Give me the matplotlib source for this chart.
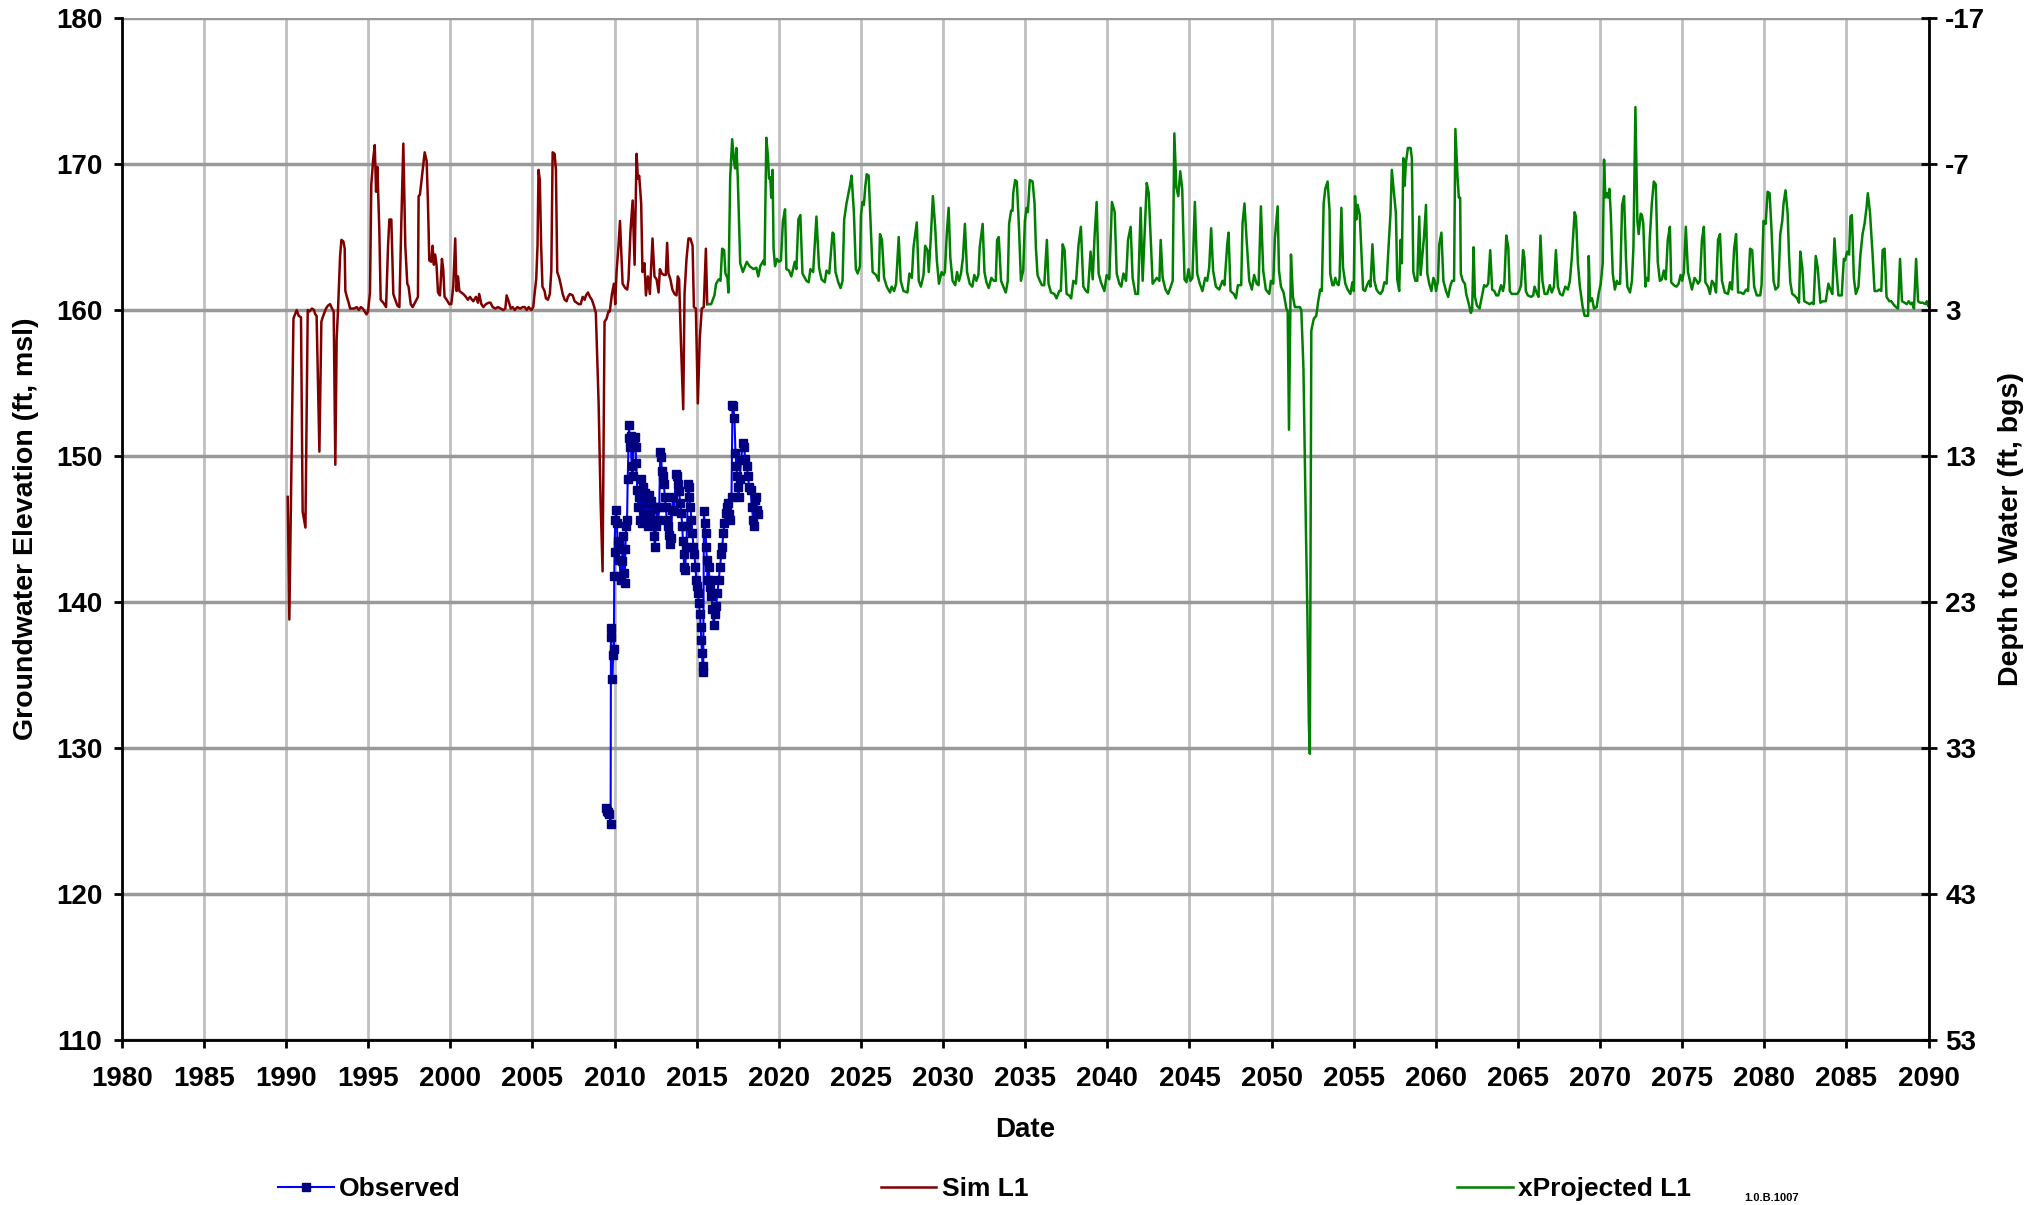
import matplotlib
matplotlib.use("Agg")
import matplotlib.pyplot as plt

# Observed groundwater elevation (ft, msl)
obs_year = [
    2009.45, 2009.52, 2009.60, 2009.68, 2009.76, 2009.78, 2009.80, 2009.86, 2009.92, 2009.96,
    2009.98, 2010.00, 2010.04, 2010.10, 2010.14, 2010.18, 2010.24, 2010.30, 2010.36, 2010.42,
    2010.46, 2010.52, 2010.58, 2010.62, 2010.66, 2010.70, 2010.76, 2010.80, 2010.86, 2010.88,
    2010.94, 2010.98, 2011.04, 2011.10, 2011.16, 2011.22, 2011.28, 2011.32, 2011.38, 2011.44,
    2011.50, 2011.56, 2011.62, 2011.68, 2011.74, 2011.80, 2011.86, 2011.92, 2011.98, 2012.04,
    2012.10, 2012.16, 2012.22, 2012.28, 2012.34, 2012.40, 2012.46, 2012.52, 2012.58, 2012.66,
    2012.72, 2012.78, 2012.84, 2012.88, 2012.92, 2013.00, 2013.06, 2013.12, 2013.18, 2013.26,
    2013.32, 2013.38, 2013.44, 2013.50, 2013.56, 2013.64, 2013.72, 2013.78, 2013.86, 2013.92,
    2014.00, 2014.06, 2014.12, 2014.16, 2014.20, 2014.24, 2014.30, 2014.36, 2014.42, 2014.46,
    2014.52, 2014.56, 2014.62, 2014.68, 2014.74, 2014.80, 2014.86, 2014.92, 2014.98, 2015.04,
    2015.08, 2015.14, 2015.20, 2015.24, 2015.28, 2015.32, 2015.36, 2015.40, 2015.44, 2015.48,
    2015.54, 2015.58, 2015.62, 2015.66, 2015.72, 2015.78, 2015.84, 2015.90, 2015.96, 2016.04,
    2016.10, 2016.18, 2016.26, 2016.34, 2016.42, 2016.50, 2016.56, 2016.62, 2016.68, 2016.76,
    2016.84, 2016.90, 2016.98, 2017.04, 2017.12, 2017.18, 2017.22, 2017.30, 2017.36, 2017.42,
    2017.46, 2017.50, 2017.56, 2017.62, 2017.70, 2017.80, 2017.88, 2017.96, 2018.06, 2018.12,
    2018.20, 2018.28, 2018.36, 2018.44, 2018.50, 2018.56, 2018.62, 2018.68, 2018.72,
]
obs_elev = [
    125.9, 125.7, 125.6, 125.5, 124.8, 138.2, 137.6, 134.7, 136.4, 136.8,
    141.8, 143.4, 145.6, 146.3, 145.4, 144.2, 143.6, 142.9, 141.8, 141.5,
    142.8, 144.5, 142.0, 141.3, 143.6, 145.2, 145.6, 148.4, 151.2, 152.1,
    150.6, 151.4, 149.3, 148.6, 151.1, 151.3, 150.6, 149.5, 147.7, 146.5,
    147.2, 145.6, 148.4, 145.4, 147.9, 146.1, 147.5, 145.6, 146.8, 145.2,
    147.3, 145.8, 146.9, 145.6, 146.4, 144.5, 143.8, 145.2, 146.5, 145.6,
    146.5, 150.3, 149.9, 149.0, 148.6, 148.1, 147.2, 146.5, 145.6, 145.2,
    144.6, 144.0, 144.4, 146.3, 147.2, 146.2, 148.8, 148.6, 148.1, 147.6,
    146.8, 146.1, 145.2, 144.2, 143.3, 142.4, 142.2, 143.8, 145.2, 148.1,
    147.9, 147.2, 146.5, 145.6, 144.7, 143.8, 143.3, 142.4, 141.5, 141.1,
    140.6, 139.9, 139.2, 138.3, 137.4, 136.5, 135.6, 135.2, 146.2, 145.4,
    144.7, 143.8, 142.9, 141.5, 142.4, 141.5, 141.0, 140.4, 139.5, 138.4,
    139.2, 139.7, 140.6, 141.5, 142.4, 143.3, 143.8, 144.7, 145.4, 146.1,
    146.5, 146.8, 146.0, 145.6, 147.2, 153.5, 153.4, 152.6, 150.2, 149.3,
    148.6, 147.9, 147.2, 148.4, 149.7, 150.9, 150.6, 149.8, 149.3, 148.6,
    147.9, 147.7, 146.5, 145.6, 145.2, 147.0, 147.2, 146.3, 146.0,
]

# Simulated layer 1 (1990-2015)
sim_year = [
    1990.10, 1990.20, 1990.45, 1990.51, 1990.65, 1990.77, 1990.91, 1991.01, 1991.18, 1991.32,
    1991.42, 1991.58, 1991.70, 1991.78, 1991.86, 1992.03, 1992.15, 1992.23, 1992.33, 1992.43,
    1992.55, 1992.68, 1992.80, 1992.90, 1993.00, 1993.08, 1993.16, 1993.29, 1993.37, 1993.49,
    1993.57, 1993.61, 1993.73, 1993.81, 1993.90, 1994.02, 1994.14, 1994.30, 1994.43, 1994.55,
    1994.67, 1994.90, 1994.99, 1995.11, 1995.19, 1995.31, 1995.40, 1995.48, 1995.56, 1995.68,
    1995.76, 1995.92, 1996.09, 1996.21, 1996.29, 1996.41, 1996.53, 1996.65, 1996.78, 1996.90,
    1997.02, 1997.14, 1997.26, 1997.38, 1997.46, 1997.59, 1997.71, 1998.03, 1998.07, 1998.15,
    1998.32, 1998.44, 1998.56, 1998.64, 1998.72, 1998.84, 1998.92, 1999.00, 1999.08, 1999.16,
    1999.25, 1999.37, 1999.49, 1999.57, 1999.65, 1999.78, 1999.94, 2000.06, 2000.18, 2000.30,
    2000.38, 2000.47, 2000.55, 2000.67, 2000.79, 2000.95, 2001.07, 2001.20, 2001.32, 2001.40,
    2001.56, 2001.68, 2001.76, 2001.89, 2002.01, 2002.17, 2002.33, 2002.45, 2002.58, 2002.74,
    2002.90, 2003.07, 2003.23, 2003.35, 2003.43, 2003.55, 2003.68, 2003.80, 2003.92, 2004.08,
    2004.25, 2004.41, 2004.53, 2004.65, 2004.77, 2004.93, 2005.05, 2005.13, 2005.23, 2005.31,
    2005.37, 2005.45, 2005.53, 2005.61, 2005.74, 2005.82, 2005.94, 2006.06, 2006.15, 2006.23,
    2006.35, 2006.43, 2006.51, 2006.63, 2006.75, 2006.84, 2006.96, 2007.08, 2007.16, 2007.28,
    2007.45, 2007.57, 2007.69, 2007.82, 2007.94, 2008.06, 2008.18, 2008.26, 2008.38, 2008.50,
    2008.62, 2008.74, 2008.86, 2009.03, 2009.15, 2009.27, 2009.39, 2009.51, 2009.63, 2009.71,
    2009.84, 2009.96, 2010.04, 2010.12, 2010.24, 2010.33, 2010.49, 2010.65, 2010.77, 2010.85,
    2010.97, 2011.10, 2011.22, 2011.34, 2011.42, 2011.50, 2011.62, 2011.70, 2011.82, 2011.91,
    2012.03, 2012.15, 2012.31, 2012.43, 2012.56, 2012.68, 2012.76, 2012.88, 2013.00, 2013.12,
    2013.20, 2013.28, 2013.40, 2013.52, 2013.65, 2013.77, 2013.85, 2013.93, 2014.04, 2014.18,
    2014.26, 2014.38, 2014.50, 2014.62, 2014.75, 2014.83, 2014.95, 2015.07, 2015.19, 2015.31,
    2015.43, 2015.56, 2015.64,
]
sim_elev = [
    147.2, 138.8, 159.4, 159.6, 160.0, 159.6, 159.5, 146.2, 145.1, 160.0,
    159.9, 160.1, 160.0, 159.7, 159.6, 150.3, 159.2, 159.5, 159.8, 160.1,
    160.3, 160.4, 160.1, 159.9, 149.4, 158.0, 159.9, 163.7, 164.8, 164.7,
    164.2, 161.3, 160.8, 160.5, 160.1, 160.1, 160.1, 160.2, 160.0, 160.2,
    160.1, 159.7, 159.9, 161.2, 168.6, 170.4, 171.3, 168.1, 169.8, 165.4,
    160.7, 160.5, 160.2, 164.4, 166.2, 166.2, 161.1, 160.7, 160.3, 160.2,
    166.1, 171.4, 164.4, 161.8, 161.6, 160.4, 160.2, 160.9, 167.8, 167.9,
    169.6, 170.8, 170.2, 167.3, 163.4, 163.3, 164.4, 163.1, 163.8, 163.1,
    161.2, 161.0, 163.5, 162.8, 160.9, 160.7, 160.4, 160.4, 161.6, 164.9,
    161.3, 162.3, 161.3, 161.2, 161.1, 160.9, 160.7, 160.9, 160.7, 160.6,
    160.9, 160.5, 161.1, 160.4, 160.2, 160.4, 160.5, 160.5, 160.2, 160.1,
    160.2, 160.1, 160.0, 160.1, 161.0, 160.6, 160.1, 160.2, 160.0, 160.2,
    160.1, 160.2, 160.2, 160.0, 160.2, 160.0, 160.2, 161.1, 162.1, 164.4,
    169.6, 168.9, 164.4, 161.6, 161.3, 160.8, 160.7, 161.1, 162.7, 170.8,
    170.7, 169.6, 162.6, 162.2, 161.6, 161.1, 160.7, 160.6, 160.9, 161.1,
    161.0, 160.6, 160.5, 160.4, 160.4, 160.9, 160.7, 161.0, 161.2, 160.9,
    160.7, 160.3, 159.8, 153.6, 146.9, 142.1, 159.2, 159.4, 159.9, 159.9,
    161.1, 161.8, 160.4, 162.6, 164.4, 166.1, 161.8, 161.5, 161.4, 162.1,
    165.4, 167.5, 163.1, 170.7, 169.0, 169.2, 167.3, 162.6, 163.2, 161.0,
    162.3, 161.1, 164.9, 162.3, 162.1, 161.2, 162.8, 162.5, 162.4, 162.4,
    164.6, 162.5, 162.1, 161.4, 161.1, 161.0, 162.3, 162.1, 157.8, 153.2,
    161.1, 163.5, 164.9, 164.9, 164.4, 160.2, 160.1, 153.6, 158.1, 160.1,
    160.2, 164.2, 160.4,
]

# Projected layer 1 (2015-2090)
proj_year = [
    2015.67, 2015.88, 2016.08, 2016.18, 2016.34, 2016.45, 2016.55, 2016.67, 2016.75, 2016.87,
    2016.93, 2017.04, 2017.16, 2017.26, 2017.34, 2017.42, 2017.50, 2017.65, 2017.81, 2018.05,
    2018.22, 2018.46, 2018.63, 2018.75, 2018.87, 2019.07, 2019.13, 2019.24, 2019.34, 2019.40,
    2019.48, 2019.54, 2019.62, 2019.68, 2019.77, 2019.89, 2020.01, 2020.13, 2020.25, 2020.38,
    2020.46, 2020.62, 2020.76, 2020.87, 2020.97, 2021.07, 2021.19, 2021.31, 2021.44, 2021.68,
    2021.82, 2021.92, 2022.09, 2022.29, 2022.45, 2022.60, 2022.80, 2022.90, 2023.07, 2023.27,
    2023.35, 2023.45, 2023.62, 2023.76, 2023.88, 2023.98, 2024.12, 2024.33, 2024.43, 2024.57,
    2024.69, 2024.80, 2024.94, 2025.00, 2025.10, 2025.18, 2025.26, 2025.35, 2025.47, 2025.71,
    2025.92, 2026.08, 2026.16, 2026.28, 2026.41, 2026.57, 2026.77, 2026.87, 2027.02, 2027.14,
    2027.30, 2027.42, 2027.59, 2027.83, 2027.95, 2028.10, 2028.20, 2028.32, 2028.40, 2028.52,
    2028.65, 2028.81, 2028.91, 2029.05, 2029.13, 2029.26, 2029.38, 2029.52, 2029.62, 2029.75,
    2029.91, 2030.03, 2030.11, 2030.23, 2030.34, 2030.44, 2030.58, 2030.74, 2030.85, 2030.97,
    2031.09, 2031.21, 2031.33, 2031.46, 2031.62, 2031.78, 2031.90, 2032.03, 2032.15, 2032.23,
    2032.41, 2032.52, 2032.64, 2032.78, 2032.94, 2033.09, 2033.21, 2033.29, 2033.39, 2033.53,
    2033.74, 2033.82, 2033.94, 2034.02, 2034.14, 2034.23, 2034.27, 2034.39, 2034.49, 2034.63,
    2034.74, 2034.88, 2034.98, 2035.08, 2035.16, 2035.28, 2035.45, 2035.57, 2035.65, 2035.75,
    2035.89, 2036.02, 2036.16, 2036.32, 2036.42, 2036.57, 2036.77, 2036.91, 2037.07, 2037.17,
    2037.28, 2037.40, 2037.52, 2037.68, 2037.80, 2037.93, 2038.09, 2038.25, 2038.39, 2038.54,
    2038.70, 2038.82, 2038.98, 2039.11, 2039.23, 2039.35, 2039.47, 2039.61, 2039.82, 2039.96,
    2040.12, 2040.28, 2040.45, 2040.57, 2040.73, 2040.85, 2040.98, 2041.14, 2041.26, 2041.42,
    2041.54, 2041.71, 2041.87, 2042.03, 2042.15, 2042.28, 2042.40, 2042.52, 2042.60, 2042.76,
    2042.89, 2043.01, 2043.17, 2043.25, 2043.37, 2043.54, 2043.70, 2043.86, 2043.98, 2044.08,
    2044.20, 2044.32, 2044.44, 2044.56, 2044.70, 2044.82, 2044.94, 2045.06, 2045.18, 2045.33,
    2045.47, 2045.63, 2045.79, 2045.96, 2046.08, 2046.20, 2046.32, 2046.44, 2046.61, 2046.81,
    2047.01, 2047.13, 2047.30, 2047.38, 2047.50, 2047.70, 2047.83, 2047.95, 2048.15, 2048.23,
    2048.35, 2048.48, 2048.64, 2048.80, 2048.94, 2049.09, 2049.21, 2049.35, 2049.49, 2049.65,
    2049.86, 2049.96, 2050.10, 2050.20, 2050.37, 2050.45, 2050.57, 2050.73, 2050.90, 2050.98,
    2051.06, 2051.18, 2051.30, 2051.42, 2051.72, 2051.81, 2051.94, 2052.09, 2052.18, 2052.27,
    2052.33, 2052.42, 2052.57, 2052.72, 2052.84, 2052.96, 2053.06, 2053.17, 2053.27, 2053.41,
    2053.53, 2053.57, 2053.70, 2053.78, 2053.88, 2053.98, 2054.08, 2054.14, 2054.25, 2054.35,
    2054.49, 2054.63, 2054.80, 2054.92, 2055.00, 2055.08, 2055.16, 2055.24, 2055.37, 2055.45,
    2055.57, 2055.69, 2055.81, 2055.94, 2056.02, 2056.14, 2056.26, 2056.39, 2056.51, 2056.63,
    2056.75, 2056.87, 2057.00, 2057.12, 2057.24, 2057.32, 2057.45, 2057.57, 2057.65, 2057.77,
    2057.85, 2057.93, 2058.02, 2058.10, 2058.18, 2058.30, 2058.46, 2058.54, 2058.63, 2058.75,
    2058.87, 2058.99, 2059.07, 2059.15, 2059.28, 2059.40, 2059.48, 2059.60, 2059.73, 2059.85,
    2059.93, 2060.01, 2060.13, 2060.21, 2060.34, 2060.46, 2060.62, 2060.75, 2060.87, 2060.99,
    2061.11, 2061.19, 2061.32, 2061.40, 2061.48, 2061.52, 2061.64, 2061.77, 2061.85, 2062.01,
    2062.13, 2062.21, 2062.30, 2062.38, 2062.50, 2062.66, 2062.82, 2062.94, 2063.07, 2063.19,
    2063.31, 2063.43, 2063.56, 2063.68, 2063.80, 2063.97, 2064.09, 2064.17, 2064.29, 2064.41,
    2064.50, 2064.62, 2064.78, 2064.95, 2065.07, 2065.19, 2065.31, 2065.39, 2065.48, 2065.60,
    2065.80, 2065.93, 2066.01, 2066.13, 2066.25, 2066.37, 2066.49, 2066.62, 2066.78, 2066.94,
    2067.06, 2067.19, 2067.31, 2067.43, 2067.56, 2067.72, 2067.88, 2068.04, 2068.16, 2068.28,
    2068.45, 2068.53, 2068.65, 2068.77, 2068.94, 2069.06, 2069.27, 2069.31, 2069.39, 2069.51,
    2069.63, 2069.79, 2069.91, 2070.04, 2070.16, 2070.24, 2070.32, 2070.40, 2070.49, 2070.57,
    2070.65, 2070.77, 2070.90, 2071.02, 2071.10, 2071.22, 2071.34, 2071.46, 2071.58, 2071.66,
    2071.82, 2071.94, 2072.03, 2072.15, 2072.27, 2072.35, 2072.47, 2072.55, 2072.63, 2072.76,
    2072.82, 2072.94, 2073.02, 2073.15, 2073.27, 2073.39, 2073.51, 2073.64, 2073.76, 2073.88,
    2074.00, 2074.12, 2074.25, 2074.33, 2074.49, 2074.65, 2074.78, 2074.90, 2075.00, 2075.10,
    2075.22, 2075.35, 2075.47, 2075.59, 2075.75, 2075.88, 2075.96, 2076.08, 2076.20, 2076.32,
    2076.41, 2076.57, 2076.69, 2076.81, 2076.93, 2077.06, 2077.18, 2077.30, 2077.42, 2077.59,
    2077.79, 2077.91, 2078.03, 2078.16, 2078.28, 2078.40, 2078.56, 2078.73, 2078.89, 2079.01,
    2079.13, 2079.26, 2079.38, 2079.54, 2079.75, 2079.83, 2079.95, 2080.08, 2080.20, 2080.32,
    2080.44, 2080.56, 2080.68, 2080.85, 2080.97, 2081.09, 2081.17, 2081.29, 2081.42, 2081.50,
    2081.58, 2081.70, 2081.82, 2081.99, 2082.11, 2082.19, 2082.31, 2082.43, 2082.60, 2082.76,
    2082.88, 2083.00, 2083.13, 2083.25, 2083.41, 2083.57, 2083.74, 2083.90, 2084.02, 2084.14,
    2084.27, 2084.39, 2084.51, 2084.71, 2084.84, 2084.92, 2085.04, 2085.16, 2085.24, 2085.33,
    2085.45, 2085.57, 2085.73, 2085.85, 2085.98, 2086.10, 2086.22, 2086.30, 2086.43, 2086.59,
    2086.71, 2086.87, 2087.00, 2087.12, 2087.20, 2087.32, 2087.44, 2087.61, 2087.73, 2087.85,
    2088.01, 2088.14, 2088.26, 2088.38, 2088.54, 2088.67, 2088.79, 2088.91, 2088.99, 2089.11,
    2089.24, 2089.36, 2089.48, 2089.64, 2089.81, 2089.89, 2089.97,
]
proj_elev = [
    160.4, 160.4, 161.0, 161.8, 162.1, 162.0, 164.2, 164.1, 162.5, 162.2,
    161.2, 169.1, 171.7, 170.3, 169.7, 171.1, 169.1, 163.2, 162.6, 163.3,
    163.0, 162.8, 162.9, 162.3, 163.0, 163.4, 163.1, 171.8, 170.5, 169.0,
    169.1, 167.7, 169.6, 164.2, 163.0, 163.5, 163.3, 163.4, 166.1, 166.9,
    162.8, 162.7, 162.3, 162.8, 163.3, 162.8, 166.2, 166.5, 162.5, 162.0,
    161.9, 162.8, 162.6, 166.4, 162.9, 162.1, 161.9, 162.7, 162.5, 165.3,
    165.2, 162.6, 161.9, 161.5, 162.0, 166.2, 167.3, 168.5, 169.2, 166.7,
    162.8, 162.5, 163.0, 166.5, 167.4, 167.2, 168.4, 169.3, 169.2, 162.6,
    162.4, 162.0, 165.2, 164.8, 162.2, 161.6, 161.2, 161.6, 161.3, 161.8,
    165.0, 162.0, 161.3, 161.2, 162.5, 162.2, 164.3, 165.3, 166.0, 162.0,
    161.6, 162.4, 164.4, 164.1, 162.6, 165.1, 167.8, 165.7, 163.4, 161.8,
    162.6, 162.4, 162.6, 165.3, 167.0, 163.6, 162.0, 161.7, 162.6, 162.0,
    162.5, 163.6, 165.9, 162.6, 161.8, 161.6, 162.4, 162.0, 162.4, 164.3,
    165.9, 162.6, 161.9, 161.5, 162.2, 162.0, 162.0, 164.8, 165.0, 162.0,
    161.4, 161.2, 162.0, 165.9, 166.8, 166.8, 168.0, 168.9, 168.8, 165.4,
    162.0, 162.7, 166.1, 167.0, 166.7, 168.9, 168.8, 167.3, 164.3, 162.4,
    162.0, 161.7, 161.7, 164.8, 161.8, 161.2, 161.1, 160.8, 161.3, 161.3,
    164.5, 164.1, 161.1, 161.0, 160.8, 162.0, 161.8, 164.5, 165.7, 161.6,
    161.3, 161.2, 164.0, 162.1, 165.2, 167.4, 162.5, 161.9, 161.3, 162.4,
    162.1, 167.4, 166.7, 162.5, 161.8, 161.6, 162.5, 162.0, 164.8, 165.7,
    162.2, 161.1, 161.1, 167.0, 162.0, 165.4, 168.7, 168.0, 165.9, 161.8,
    162.0, 162.2, 162.0, 164.8, 162.2, 161.4, 161.1, 161.6, 162.0, 172.1,
    168.4, 167.8, 169.5, 168.3, 162.1, 161.9, 162.8, 162.0, 162.2, 167.4,
    162.5, 161.8, 161.3, 162.2, 162.0, 162.9, 165.6, 162.7, 161.6, 161.4,
    162.0, 161.7, 164.5, 165.3, 161.3, 161.1, 160.8, 161.7, 161.7, 165.9,
    167.3, 164.8, 162.0, 161.4, 162.4, 161.8, 161.7, 167.1, 162.7, 161.4,
    161.1, 162.0, 161.8, 164.9, 167.1, 162.7, 161.6, 161.2, 160.1, 159.9,
    151.8, 163.8, 160.9, 160.2, 160.2, 160.0, 156.0, 145.0, 139.2, 131.6,
    129.6, 158.6, 159.4, 159.6, 160.6, 161.4, 161.3, 167.3, 168.3, 168.8,
    166.8, 162.5, 161.7, 161.7, 162.2, 161.8, 161.7, 162.2, 167.0, 162.9,
    161.8, 161.4, 161.1, 161.9, 161.3, 167.8, 166.2, 167.2, 166.5, 164.5,
    161.4, 161.3, 161.7, 162.0, 161.6, 164.5, 162.0, 161.4, 161.2, 161.1,
    161.3, 161.9, 161.8, 164.3, 166.6, 169.6, 168.0, 166.6, 162.1, 161.3,
    164.8, 163.2, 170.4, 168.5, 170.1, 171.1, 171.1, 170.4, 162.6, 162.0,
    162.0, 166.4, 162.4, 163.4, 165.0, 167.2, 162.5, 161.8, 161.3, 162.2,
    162.0, 161.3, 162.0, 164.5, 165.3, 162.0, 161.3, 160.9, 161.6, 162.0,
    162.0, 172.4, 169.1, 167.7, 167.7, 162.5, 162.0, 161.8, 161.1, 160.4,
    159.8, 160.0, 164.3, 160.9, 160.3, 160.1, 161.0, 161.7, 161.6, 161.8,
    164.1, 161.4, 161.3, 161.0, 161.0, 161.7, 161.3, 161.8, 165.1, 164.3,
    161.3, 161.1, 161.1, 161.1, 161.3, 161.7, 164.1, 163.6, 161.3, 161.0,
    160.9, 161.0, 161.6, 161.2, 160.9, 165.1, 162.0, 161.1, 161.1, 161.7,
    161.2, 161.6, 164.1, 161.6, 161.1, 161.0, 161.6, 161.4, 162.0, 163.6,
    166.7, 166.4, 163.2, 161.6, 160.2, 159.6, 159.6, 163.7, 160.6, 160.8,
    160.1, 160.2, 161.1, 161.8, 163.2, 170.3, 167.7, 168.0, 167.7, 168.3,
    166.6, 162.5, 161.4, 162.0, 161.8, 161.8, 167.2, 167.8, 163.4, 161.6,
    161.2, 162.0, 164.3, 173.9, 166.1, 165.2, 166.6, 166.5, 165.9, 161.6,
    162.2, 162.0, 164.8, 167.3, 168.8, 168.6, 163.3, 162.0, 162.1, 162.7,
    162.1, 164.8, 165.7, 161.9, 161.7, 161.6, 161.8, 162.4, 162.0, 162.6,
    165.7, 162.6, 162.0, 161.4, 162.2, 162.0, 161.8, 162.0, 164.8, 165.7,
    161.9, 161.6, 161.1, 162.0, 161.8, 161.2, 164.8, 165.2, 162.0, 161.2,
    161.1, 161.9, 161.4, 164.2, 165.2, 161.2, 161.2, 161.1, 161.4, 161.3,
    164.2, 164.1, 161.6, 161.0, 161.0, 161.7, 166.1, 165.9, 168.1, 168.0,
    165.4, 162.0, 161.4, 161.6, 165.2, 166.1, 167.3, 168.2, 166.6, 163.8,
    161.9, 161.1, 161.0, 160.8, 160.5, 164.0, 162.9, 160.6, 160.5, 160.4,
    160.5, 160.4, 163.7, 162.9, 160.5, 160.6, 160.6, 161.8, 161.4, 161.1,
    164.9, 162.7, 161.0, 161.0, 163.5, 163.4, 164.0, 163.8, 166.4, 166.5,
    162.2, 161.1, 161.6, 163.8, 165.2, 165.9, 167.0, 168.0, 166.7, 163.8,
    161.3, 161.3, 161.4, 161.3, 164.1, 164.2, 160.9, 160.6, 160.6, 160.4,
    160.2, 160.1, 163.5, 160.6, 160.5, 160.4, 160.6, 160.4, 160.5, 160.1,
    163.5, 160.6, 160.5, 160.5, 160.4, 160.6, 160.3,
]

# right axis: depth below ground surface (163 ft msl)
depth_ticks = [-17, -7, 3, 13, 23, 33, 43, 53]
year_ticks = list(range(1980, 2091, 5))
elev_ticks = list(range(110, 181, 10))

plt.rcParams["font.family"] = ["Liberation Sans", "DejaVu Sans"]
plt.rcParams["font.weight"] = "bold"
plt.rcParams["axes.unicode_minus"] = False

fig = plt.figure(figsize=(20.31, 12.05), dpi=100)
ax = fig.add_axes([0.05997, 0.13693, 0.88961, 0.84813])

obs_line, = ax.plot(obs_year, obs_elev, color="#0000ff", lw=1.5, marker="s", ms=5.5,
                    mfc="#000080", mec="#000080", label="Observed", zorder=3)
sim_line, = ax.plot(sim_year, sim_elev, color="#800000", lw=1.8, label="Sim L1", zorder=2)
proj_line, = ax.plot(proj_year, proj_elev, color="#008000", lw=1.8, label="xProjected L1", zorder=2)

ax.set_xlim(1980, 2090)
ax.set_ylim(110, 180)
ax.set_xticks(year_ticks)
ax.set_yticks(elev_ticks)
ax.xaxis.grid(True, color="#c0c0c0", lw=2)
ax.yaxis.grid(True, color="#999999", lw=2.5)
ax.set_axisbelow(True)

for side in ("left", "bottom"):
    ax.spines[side].set_linewidth(2)
    ax.spines[side].set_color("black")
ax.spines["top"].set_visible(False)
ax.spines["right"].set_visible(False)

ax.tick_params(axis="x", direction="out", length=6, width=2, pad=13, labelsize=20)
ax.tick_params(axis="y", direction="out", length=6, width=2, pad=8, labelsize=20)
for lab in ax.get_xticklabels() + ax.get_yticklabels():
    lab.set_fontweight("bold")

ax.set_xlabel("Date", fontsize=20, fontweight="bold")
ax.xaxis.set_label_coords(0.5, -0.075)
ax.set_ylabel("Groundwater Elevation (ft, msl)", fontsize=20.5, fontweight="bold")
ax.yaxis.set_label_coords(-0.046, 0.5)

ax2 = ax.twinx()
ax2.set_ylim(53, -17)
ax2.set_yticks(depth_ticks)
for side in ("left", "bottom", "top"):
    ax2.spines[side].set_visible(False)
ax2.spines["right"].set_linewidth(2)
ax2.tick_params(axis="y", direction="inout", length=12, width=2, pad=6, labelsize=20)
for lab in ax2.get_yticklabels():
    lab.set_fontweight("bold")
ax2.set_ylabel("Depth to Water (ft, bgs)", fontsize=20.5, fontweight="bold")
ax2.yaxis.set_label_coords(1.0385, 0.5)

# legend entries spread along the bottom, like the spreadsheet chart
for handle, xpos in [(obs_line, 0.137), (sim_line, 0.4338), (proj_line, 0.7175)]:
    fig.legend([handle], [handle.get_label()], loc="center left",
               bbox_to_anchor=(xpos, 0.0133), frameon=False, borderpad=0,
               borderaxespad=0, handlelength=2.1, handletextpad=0.2,
               prop={"size": 19, "weight": "bold"})

fig.text(0.859, 0.0015, "1.0.B.1007", fontsize=8, fontweight="bold", va="bottom")

fig.savefig("out.png", dpi=100)
